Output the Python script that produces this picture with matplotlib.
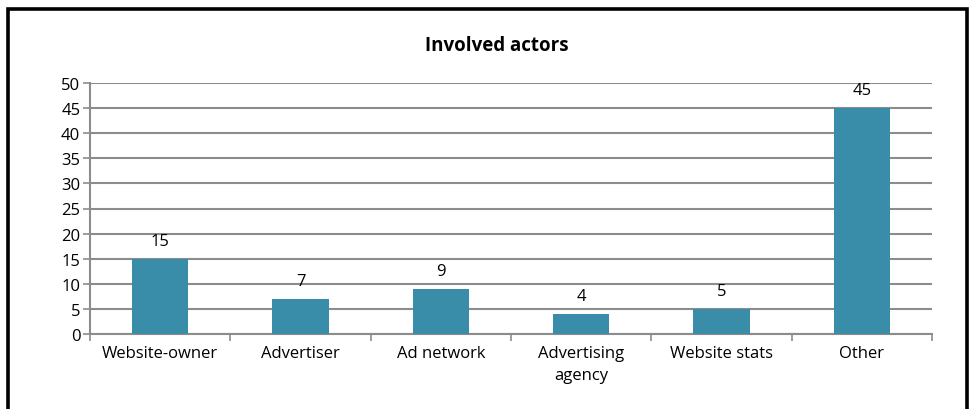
import matplotlib.pyplot as plt
from matplotlib.patches import Rectangle

categories = ["Website-owner", "Advertiser", "Ad network", "Advertising\nagency", "Website stats", "Other"]
values = [15, 7, 9, 4, 5, 45]
yticks = list(range(0, 51, 5))

BAR_COLOR = "#3A8DA8"
GRID_COLOR = "#8C8C8C"

plt.rcParams['font.family'] = ['Open Sans', 'DejaVu Sans']

fig = plt.figure(figsize=(9.71, 4.10), dpi=100)
ax = fig.add_axes([90 / 971, 1 - 335 / 410, (932 - 90) / 971, (335 - 84) / 410])

x = list(range(len(categories)))
ax.bar(x, values, width=0.4, color=BAR_COLOR, zorder=3)
for xi, v in zip(x, values):
    ax.annotate(str(v), (xi, v), xytext=(0, 7), textcoords="offset points",
                ha="center", va="bottom", fontsize=12)

ax.set_xlim(-0.5, len(categories) - 0.5)
ax.set_ylim(0, 50)
ax.set_yticks(yticks)
ax.yaxis.grid(True, color=GRID_COLOR, linewidth=1.5, zorder=0)
ax.set_axisbelow(True)

ax.set_xticks([i - 0.5 for i in range(len(categories) + 1)], minor=False)
ax.set_xticklabels([])
ax.set_xticks(x, minor=True)
ax.set_xticklabels(categories, minor=True, fontsize=12, linespacing=1.5)
ax.tick_params(axis="x", which="minor", length=0, pad=8)
ax.tick_params(axis="x", which="major", length=5, color=GRID_COLOR, width=1.2)
ax.tick_params(axis="y", length=5, color=GRID_COLOR, width=1.2, labelsize=12, pad=2)

for side in ["top", "right"]:
    ax.spines[side].set_visible(False)
for side in ["left", "bottom"]:
    ax.spines[side].set_color(GRID_COLOR)
    ax.spines[side].set_linewidth(1.5)

fig.text(497 / 971, 1 - 46 / 410, "Involved actors", ha="center", va="center",
         fontsize=13.5, fontweight="bold")

fig.patches.append(Rectangle((7.5 / 971, -0.1), (967 - 7.5) / 971, 1.1 - 9.5 / 410,
                             transform=fig.transFigure, fill=False,
                             edgecolor="black", linewidth=2.6))

fig.savefig("out.png", dpi=100)
